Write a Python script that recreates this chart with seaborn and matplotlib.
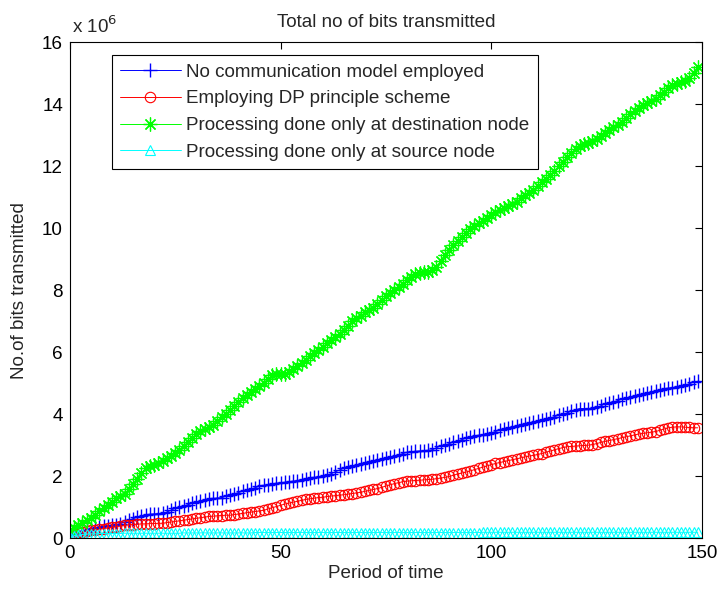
import numpy as np
import pandas as pd
import matplotlib
matplotlib.use("Agg")
import matplotlib.pyplot as plt
from matplotlib.ticker import FuncFormatter
import seaborn as sns

# Time periods
period = list(range(0, 150))

# Bits transmitted, in millions of bits
no_model = [
    0.10, 0.14, 0.18, 0.22, 0.26, 0.30, 0.33, 0.36, 0.38, 0.40,
    0.42, 0.44, 0.47, 0.52, 0.58, 0.63, 0.67, 0.72, 0.75, 0.77,
    0.78, 0.79, 0.80, 0.84, 0.90, 0.96, 1.00, 1.04, 1.08, 1.12,
    1.16, 1.20, 1.24, 1.26, 1.28, 1.29, 1.31, 1.35, 1.39, 1.43,
    1.47, 1.51, 1.55, 1.59, 1.63, 1.67, 1.70, 1.73, 1.75, 1.77,
    1.79, 1.80, 1.82, 1.84, 1.86, 1.89, 1.92, 1.94, 1.96, 1.98,
    2.01, 2.04, 2.08, 2.14, 2.20, 2.25, 2.28, 2.32, 2.36, 2.40,
    2.43, 2.46, 2.50, 2.53, 2.55, 2.58, 2.61, 2.65, 2.69, 2.73,
    2.77, 2.79, 2.80, 2.81, 2.82, 2.83, 2.85, 2.92, 2.97, 3.01,
    3.05, 3.09, 3.14, 3.18, 3.22, 3.26, 3.30, 3.32, 3.34, 3.37,
    3.40, 3.44, 3.48, 3.53, 3.56, 3.59, 3.62, 3.64, 3.67, 3.70,
    3.74, 3.78, 3.81, 3.84, 3.88, 3.92, 3.96, 4.00, 4.04, 4.09,
    4.14, 4.18, 4.18, 4.18, 4.19, 4.22, 4.27, 4.33, 4.37, 4.40,
    4.44, 4.48, 4.51, 4.54, 4.58, 4.62, 4.65, 4.68, 4.71, 4.74,
    4.78, 4.82, 4.84, 4.86, 4.88, 4.90, 4.94, 4.98, 5.03, 5.06,
]

dp_scheme = [
    0.15, 0.17, 0.19, 0.21, 0.23, 0.25, 0.27, 0.29, 0.31, 0.33,
    0.35, 0.37, 0.39, 0.41, 0.43, 0.44, 0.45, 0.46, 0.46, 0.47,
    0.47, 0.48, 0.48, 0.50, 0.52, 0.54, 0.56, 0.58, 0.60, 0.62,
    0.64, 0.66, 0.68, 0.70, 0.71, 0.72, 0.73, 0.74, 0.74, 0.76,
    0.78, 0.80, 0.82, 0.84, 0.86, 0.88, 0.90, 0.94, 0.98, 1.02,
    1.06, 1.10, 1.13, 1.16, 1.19, 1.22, 1.25, 1.27, 1.29, 1.31,
    1.32, 1.34, 1.36, 1.37, 1.39, 1.40, 1.42, 1.44, 1.46, 1.48,
    1.51, 1.54, 1.57, 1.60, 1.64, 1.68, 1.72, 1.76, 1.79, 1.82,
    1.84, 1.85, 1.86, 1.87, 1.88, 1.89, 1.90, 1.92, 1.94, 1.96,
    1.99, 2.03, 2.07, 2.10, 2.13, 2.17, 2.21, 2.25, 2.29, 2.33,
    2.37, 2.41, 2.44, 2.47, 2.50, 2.53, 2.56, 2.59, 2.62, 2.65,
    2.67, 2.70, 2.73, 2.77, 2.81, 2.85, 2.89, 2.92, 2.95, 2.96,
    2.97, 2.98, 2.99, 3.00, 3.02, 3.05, 3.09, 3.12, 3.15, 3.18,
    3.21, 3.24, 3.27, 3.30, 3.33, 3.36, 3.38, 3.40, 3.42, 3.44,
    3.48, 3.52, 3.56, 3.58, 3.59, 3.59, 3.58, 3.57, 3.56, 3.56,
]

destination_only = [
    0.25, 0.33, 0.42, 0.50, 0.58, 0.66, 0.76, 0.88, 0.98, 1.06,
    1.16, 1.28, 1.36, 1.42, 1.58, 1.74, 1.92, 2.10, 2.26, 2.32,
    2.36, 2.42, 2.48, 2.58, 2.66, 2.76, 2.86, 2.98, 3.10, 3.24,
    3.36, 3.46, 3.52, 3.58, 3.66, 3.78, 3.90, 4.00, 4.12, 4.26,
    4.40, 4.52, 4.62, 4.72, 4.82, 4.92, 5.02, 5.14, 5.26, 5.30,
    5.30, 5.31, 5.36, 5.46, 5.56, 5.66, 5.76, 5.88, 5.98, 6.08,
    6.18, 6.28, 6.38, 6.48, 6.60, 6.72, 6.86, 7.00, 7.10, 7.18,
    7.28, 7.36, 7.44, 7.56, 7.68, 7.80, 7.90, 8.00, 8.10, 8.20,
    8.32, 8.44, 8.52, 8.56, 8.58, 8.60, 8.64, 8.76, 8.94, 9.12,
    9.30, 9.46, 9.58, 9.70, 9.84, 9.98, 10.08, 10.16, 10.24, 10.32,
    10.42, 10.52, 10.60, 10.66, 10.72, 10.78, 10.86, 10.96, 11.06, 11.14,
    11.24, 11.36, 11.48, 11.60, 11.72, 11.86, 12.00, 12.14, 12.28, 12.42,
    12.56, 12.64, 12.70, 12.76, 12.82, 12.88, 12.96, 13.06, 13.16, 13.26,
    13.34, 13.44, 13.56, 13.68, 13.78, 13.88, 13.96, 14.04, 14.10, 14.18,
    14.28, 14.40, 14.52, 14.62, 14.66, 14.70, 14.74, 14.86, 15.02, 15.20,
]

source_only = [
    0.05, 0.08, 0.10, 0.12, 0.13, 0.14, 0.14, 0.15, 0.15, 0.15,
    0.15, 0.15, 0.15, 0.16, 0.16, 0.16, 0.16, 0.16, 0.16, 0.16,
    0.16, 0.16, 0.16, 0.16, 0.16, 0.16, 0.16, 0.17, 0.17, 0.17,
    0.17, 0.17, 0.17, 0.17, 0.17, 0.17, 0.17, 0.17, 0.17, 0.17,
    0.17, 0.17, 0.17, 0.17, 0.18, 0.18, 0.18, 0.18, 0.18, 0.18,
    0.18, 0.18, 0.18, 0.18, 0.18, 0.18, 0.18, 0.18, 0.18, 0.18,
    0.18, 0.18, 0.18, 0.18, 0.18, 0.18, 0.18, 0.18, 0.18, 0.18,
    0.18, 0.18, 0.18, 0.18, 0.18, 0.18, 0.18, 0.18, 0.18, 0.18,
    0.18, 0.18, 0.18, 0.18, 0.18, 0.18, 0.18, 0.18, 0.18, 0.18,
    0.18, 0.18, 0.18, 0.18, 0.18, 0.18, 0.18, 0.18, 0.19, 0.19,
    0.19, 0.19, 0.19, 0.19, 0.19, 0.19, 0.19, 0.19, 0.19, 0.19,
    0.19, 0.19, 0.19, 0.19, 0.19, 0.19, 0.19, 0.19, 0.19, 0.19,
    0.19, 0.19, 0.19, 0.19, 0.19, 0.19, 0.19, 0.19, 0.19, 0.19,
    0.19, 0.19, 0.19, 0.19, 0.19, 0.19, 0.19, 0.19, 0.19, 0.19,
    0.19, 0.19, 0.19, 0.19, 0.19, 0.19, 0.19, 0.19, 0.19, 0.19,
]

labels = [
    "No communication model employed",
    "Employing DP principle scheme",
    "Processing done only at destination node",
    "Processing done only at source node",
]
x_ticks = [0, 50, 100, 150]
y_ticks = [0, 2, 4, 6, 8, 10, 12, 14, 16]

sns.set_theme(style="white")
plt.rcParams["font.family"] = ["Liberation Sans", "DejaVu Sans"]
FS = 13.6

fig = plt.figure(figsize=(7.2, 5.94), dpi=100)
ax = fig.add_axes([0.097, 0.094, 0.878, 0.835])

series = [
    (no_model, "#0000ff", "+", dict(markersize=10, markeredgewidth=1.0)),
    (dp_scheme, "#ff0000", "o", dict(markersize=7.5, markeredgewidth=0.8, markerfacecolor="none")),
    (destination_only, "#00ff00", (8, 2, 0), dict(markersize=10, markeredgewidth=0.9)),
    (source_only, "#00ffff", "^", dict(markersize=7.5, markeredgewidth=0.8, markerfacecolor="none")),
]

for values, color, marker, kw in series:
    bits = np.array(values) * 1e6
    sns.lineplot(x=period, y=bits, ax=ax, color=color, marker=marker,
                 markeredgecolor=color, linewidth=0.7, label=None, **kw)

ax.set_xlim(0, 150)
ax.set_ylim(0, 16e6)
ax.set_xticks(x_ticks)
ax.set_yticks([v * 1e6 for v in y_ticks])
ax.yaxis.set_major_formatter(FuncFormatter(lambda v, p: f"{v / 1e6:g}"))
ax.tick_params(direction="in", length=5, width=0.8, top=True, right=True,
               labelsize=FS, colors="black", pad=5)
for s in ax.spines.values():
    s.set_color("black")
    s.set_linewidth(0.8)

ax.set_xlabel("Period of time", fontsize=FS, labelpad=2)
ax.set_ylabel("No.of bits transmitted", fontsize=FS, labelpad=10)
ax.set_title("Total no of bits transmitted", fontsize=FS, pad=11)
ax.text(0.003, 1.01, r"x 10$^{6}$", transform=ax.transAxes, fontsize=FS,
        ha="left", va="bottom")

handles = ax.get_lines()[:4]
leg = ax.legend(handles, labels, loc="upper left", bbox_to_anchor=(0.066, 0.974),
                borderaxespad=0, fontsize=FS, frameon=True, fancybox=False,
                framealpha=1, edgecolor="black", handlelength=3.2,
                labelspacing=0.5, borderpad=0.45, handletextpad=0.3)
leg.get_frame().set_linewidth(0.8)

fig.savefig("out.png", dpi=100, facecolor="white")
